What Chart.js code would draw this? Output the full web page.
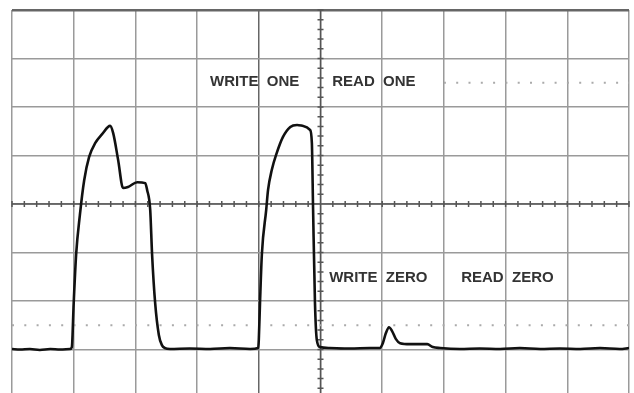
<!DOCTYPE html>
<html>
<head>
<meta charset="utf-8">
<script src="https://cdn.jsdelivr.net/npm/chart.js@4"></script>
<style>
  html, body { margin: 0; padding: 0; background: #fff; overflow: hidden; }
  #wrap { width: 634px; height: 393px; overflow: hidden; }
</style>
</head>
<body>
<div id="wrap"><canvas id="scope" width="634" height="400"></canvas></div>
<script>
// trace, in divisions (x: 0..10, y: -4..4, 0 = centre line)
const traceX = [0, 0.13, 0.29, 0.45, 0.62, 0.78, 0.94, 0.97, 1.00, 1.04, 1.10, 1.17, 1.25, 1.35, 1.46, 1.59, 1.64, 1.72, 1.80, 1.88, 2.03, 2.16, 2.19, 2.24, 2.27, 2.32, 2.38, 2.43, 2.48,
  2.56, 2.88, 3.21, 3.53, 3.86, 3.99, 4.00, 4.02, 4.05, 4.12, 4.15, 4.21, 4.29, 4.39, 4.51, 4.62, 4.72, 4.83, 4.86, 4.88, 4.91, 4.94, 4.99,
  5.15, 5.48, 5.80, 5.96, 6.01, 6.06, 6.11, 6.16, 6.22, 6.29, 6.45, 6.61, 6.73, 6.82, 6.94, 7.26, 7.58, 7.91, 8.23, 8.56, 8.88, 9.21, 9.53, 9.85, 10];
const traceY = [-2.99, -3.00, -2.99, -3.01, -2.99, -3.00, -2.99, -2.95, -2.04, -1.03, -0.23, 0.49, 0.97, 1.26, 1.44, 1.61, 1.46, 0.91, 0.33, 0.35, 0.45, 0.43, 0.29, -0.12, -1.03, -2.04, -2.70, -2.91, -2.97,
  -2.99, -2.98, -2.99, -2.97, -2.99, -2.97, -2.80, -2.02, -1.03, -0.12, 0.29, 0.70, 1.05, 1.38, 1.59, 1.63, 1.61, 1.53, 1.26, -0.12, -2.02, -2.80, -2.95,
  -2.97, -2.98, -2.97, -2.97, -2.87, -2.66, -2.54, -2.62, -2.78, -2.87, -2.89, -2.89, -2.89, -2.95, -2.97, -2.99, -2.98, -2.99, -2.97, -2.99, -2.98, -2.99, -2.97, -2.99, -2.97];

// dotted reference levels
const upperDotX = [7, 10];
const upperDotY = [2.5, 2.5];
const lowerDotX = [0, 10];
const lowerDotY = [-2.5, -2.5];

// screen annotations: text, left edge (div), centre height (div)
const labelText = ["WRITE  ONE", "READ  ONE", "WRITE  ZERO", "READ  ZERO"];
const labelX = [3.21, 5.19, 5.14, 7.28];
const labelY = [2.52, 2.52, -1.53, -1.53];

const toPoints = (xs, ys) => xs.map((x, i) => ({ x: x, y: ys[i] }));

const graticule = {
  id: "graticule",
  beforeDatasetsDraw(chart) {
    const c = chart.ctx;
    const xs = chart.scales.x;
    const ys = chart.scales.y;
    const cx = xs.getPixelForValue(5);
    const cy = ys.getPixelForValue(0);
    c.save();
    c.strokeStyle = "#555";
    c.lineWidth = 1.5;
    c.beginPath();
    c.moveTo(cx, ys.top);
    c.lineTo(cx, ys.bottom);
    c.moveTo(xs.left, cy);
    c.lineTo(xs.right, cy);
    for (let v = -40; v <= 40; v += 2) {
      const p = ys.getPixelForValue(v / 10);
      c.moveTo(cx - 3, p);
      c.lineTo(cx + 3, p);
    }
    for (let v = 0; v <= 100; v += 2) {
      const p = xs.getPixelForValue(v / 10);
      c.moveTo(p, cy - 3);
      c.lineTo(p, cy + 3);
    }
    c.stroke();

    c.fillStyle = "#333";
    c.font = "bold 15px 'Liberation Sans', Arial, sans-serif";
    c.textBaseline = "middle";
    c.textAlign = "left";
    labelText.forEach((t, i) => {
      c.fillText(t, xs.getPixelForValue(labelX[i]), ys.getPixelForValue(labelY[i]));
    });
    c.restore();
  }
};

const gridColor = (ctx) => (ctx.tick && ctx.tick.value === 4 ? "#666" : "#9a9a9a");
const gridWidth = (ctx) => (ctx.tick && ctx.scale.axis === "y" && ctx.tick.value === 4 ? 2.5 : 1.5);

new Chart(document.getElementById("scope"), {
  type: "line",
  data: {
    datasets: [
      {
        data: toPoints(traceX, traceY),
        borderColor: "#111",
        borderWidth: 2.6,
        pointRadius: 0,
        cubicInterpolationMode: "monotone"
      },
      {
        data: toPoints(upperDotX, upperDotY),
        borderColor: "#aaa",
        borderWidth: 2,
        borderDash: [2, 10.3],
        pointRadius: 0
      },
      {
        data: toPoints(lowerDotX, lowerDotY),
        borderColor: "#aaa",
        borderWidth: 2,
        borderDash: [2, 10.3],
        pointRadius: 0
      }
    ]
  },
  options: {
    responsive: false,
    animation: false,
    devicePixelRatio: 1,
    layout: { padding: { left: 12, top: 10, right: 5, bottom: 2 } },
    plugins: { legend: { display: false }, tooltip: { enabled: false } },
    scales: {
      x: {
        type: "linear",
        min: 0,
        max: 10,
        ticks: { display: false, stepSize: 1 },
        grid: { color: gridColor, lineWidth: 1.5, drawTicks: false },
        border: { display: false }
      },
      y: {
        type: "linear",
        min: -4,
        max: 4,
        ticks: { display: false, stepSize: 1 },
        grid: { color: gridColor, lineWidth: gridWidth, drawTicks: false },
        border: { display: false }
      }
    }
  },
  plugins: [graticule]
});
</script>
</body>
</html>
